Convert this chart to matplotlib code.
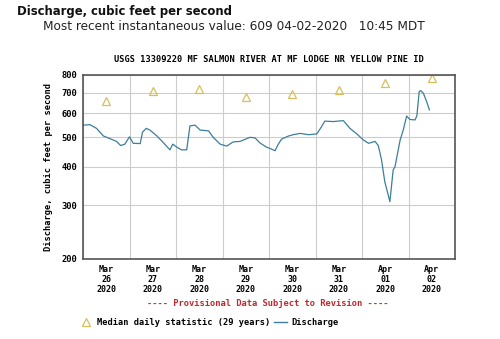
import numpy as np
import matplotlib
matplotlib.use("Agg")
from matplotlib import pyplot as plt
from matplotlib.ticker import FixedLocator, NullLocator

# discharge trace: days since Mar 26 00:00, cfs
flow_days = [0.0, 0.15, 0.29, 0.44, 0.58, 0.72, 0.81, 0.90, 1.0, 1.08, 1.23, 1.28,
             1.36, 1.44, 1.59, 1.73, 1.87, 1.93, 2.01, 2.12, 2.23, 2.30, 2.41, 2.52,
             2.70, 2.80, 2.95, 3.09, 3.23, 3.38, 3.59, 3.70, 3.80, 3.95, 4.02, 4.13,
             4.20, 4.27, 4.42, 4.52, 4.67, 4.85, 5.03, 5.13, 5.20, 5.38, 5.60, 5.74,
             5.89, 6.03, 6.14, 6.28, 6.35, 6.42, 6.49, 6.60, 6.67, 6.71, 6.82, 6.89,
             6.96, 7.03, 7.14, 7.18, 7.23, 7.26, 7.32, 7.39, 7.45]
flow_cfs = [548, 550, 535, 505, 495, 485, 470, 475, 502, 478, 477, 520,
            535, 528, 505, 480, 455, 475, 465, 455, 455, 545, 548, 528,
            525, 500, 475, 468, 483, 485, 500, 498, 480, 464, 460, 452,
            475, 493, 505, 510, 515, 510, 513, 542, 565, 563, 567, 535,
            513, 490, 478, 485, 470, 422, 358, 308, 391, 401, 490, 530,
            587, 572, 570, 588, 705, 711, 697, 654, 615]

# median daily statistic (29 years), plotted at noon
median_days = [0.5, 1.5, 2.5, 3.5, 4.5, 5.5, 6.5, 7.5]
median_cfs = [656, 709, 722, 676, 693, 716, 755, 780]

tick_labels = ["Mar\n26\n2020", "Mar\n27\n2020", "Mar\n28\n2020", "Mar\n29\n2020",
               "Mar\n30\n2020", "Mar\n31\n2020", "Apr\n01\n2020", "Apr\n02\n2020"]
y_ticks = [200, 300, 400, 500, 600, 700, 800]

mono = "DejaVu Sans Mono"
fig = plt.figure(figsize=(5.0, 3.39), dpi=100)
ax = fig.add_axes([0.166, 0.236, 0.744, 0.543])

ax.plot(flow_days, flow_cfs, color="#3b7f98", lw=0.9)
ax.plot(median_days, median_cfs, linestyle="none", marker="^", markersize=5.5,
        markerfacecolor="none", markeredgecolor="#d6bf5a", markeredgewidth=0.9)

ax.set_yscale("log")
ax.set_ylim(200, 800)
ax.set_xlim(0, 8)
ax.yaxis.set_major_locator(FixedLocator(y_ticks))
ax.yaxis.set_minor_locator(NullLocator())
ax.set_yticklabels([str(v) for v in y_ticks], family=mono, weight="bold", fontsize=6.3)
ax.set_xticks(np.arange(0, 9), minor=False)
ax.set_xticklabels([])
ax.set_xticks(median_days, minor=True)
ax.set_xticklabels(tick_labels, minor=True, family=mono, weight="bold", fontsize=6.0,
                   linespacing=1.15)
ax.tick_params(axis="both", which="both", length=0, pad=4)
ax.grid(True, which="major", color="#cccccc", lw=0.8)
for s in ax.spines.values():
    s.set_color("#555555")
    s.set_linewidth(1.2)

ax.set_ylabel("Discharge, cubic feet per second", family=mono, weight="bold",
              fontsize=6.2, labelpad=6)
ax.set_title("USGS 13309220 MF SALMON RIVER AT MF LODGE NR YELLOW PINE ID",
             family=mono, weight="bold", fontsize=6.25, pad=9)

fig.text(0.034, 0.967, "Discharge, cubic feet per second", fontsize=8.4,
         weight="bold", va="center", color="#111111")
fig.text(0.086, 0.923, "Most recent instantaneous value: 609 04-02-2020   10:45 MDT",
         fontsize=8.7, va="center", color="#222222")
fig.text(0.536, 0.105, "---- Provisional Data Subject to Revision ----", family=mono,
         weight="bold", fontsize=6.3, color="#c0282d", ha="center", va="center")

# legend row
fig.lines.append(plt.Line2D([0.172], [0.05], transform=fig.transFigure, marker="^",
                            markersize=5.5, markerfacecolor="none",
                            markeredgecolor="#d6bf5a", markeredgewidth=0.9))
fig.text(0.194, 0.05, "Median daily statistic (29 years)", family=mono, weight="bold",
         fontsize=6.2, va="center")
fig.lines.append(plt.Line2D([0.548, 0.574], [0.05, 0.05], transform=fig.transFigure,
                            color="#3b7f98", lw=1))
fig.text(0.582, 0.05, "Discharge", family=mono, weight="bold", fontsize=6.2, va="center")

fig.savefig("out.png", dpi=100)
